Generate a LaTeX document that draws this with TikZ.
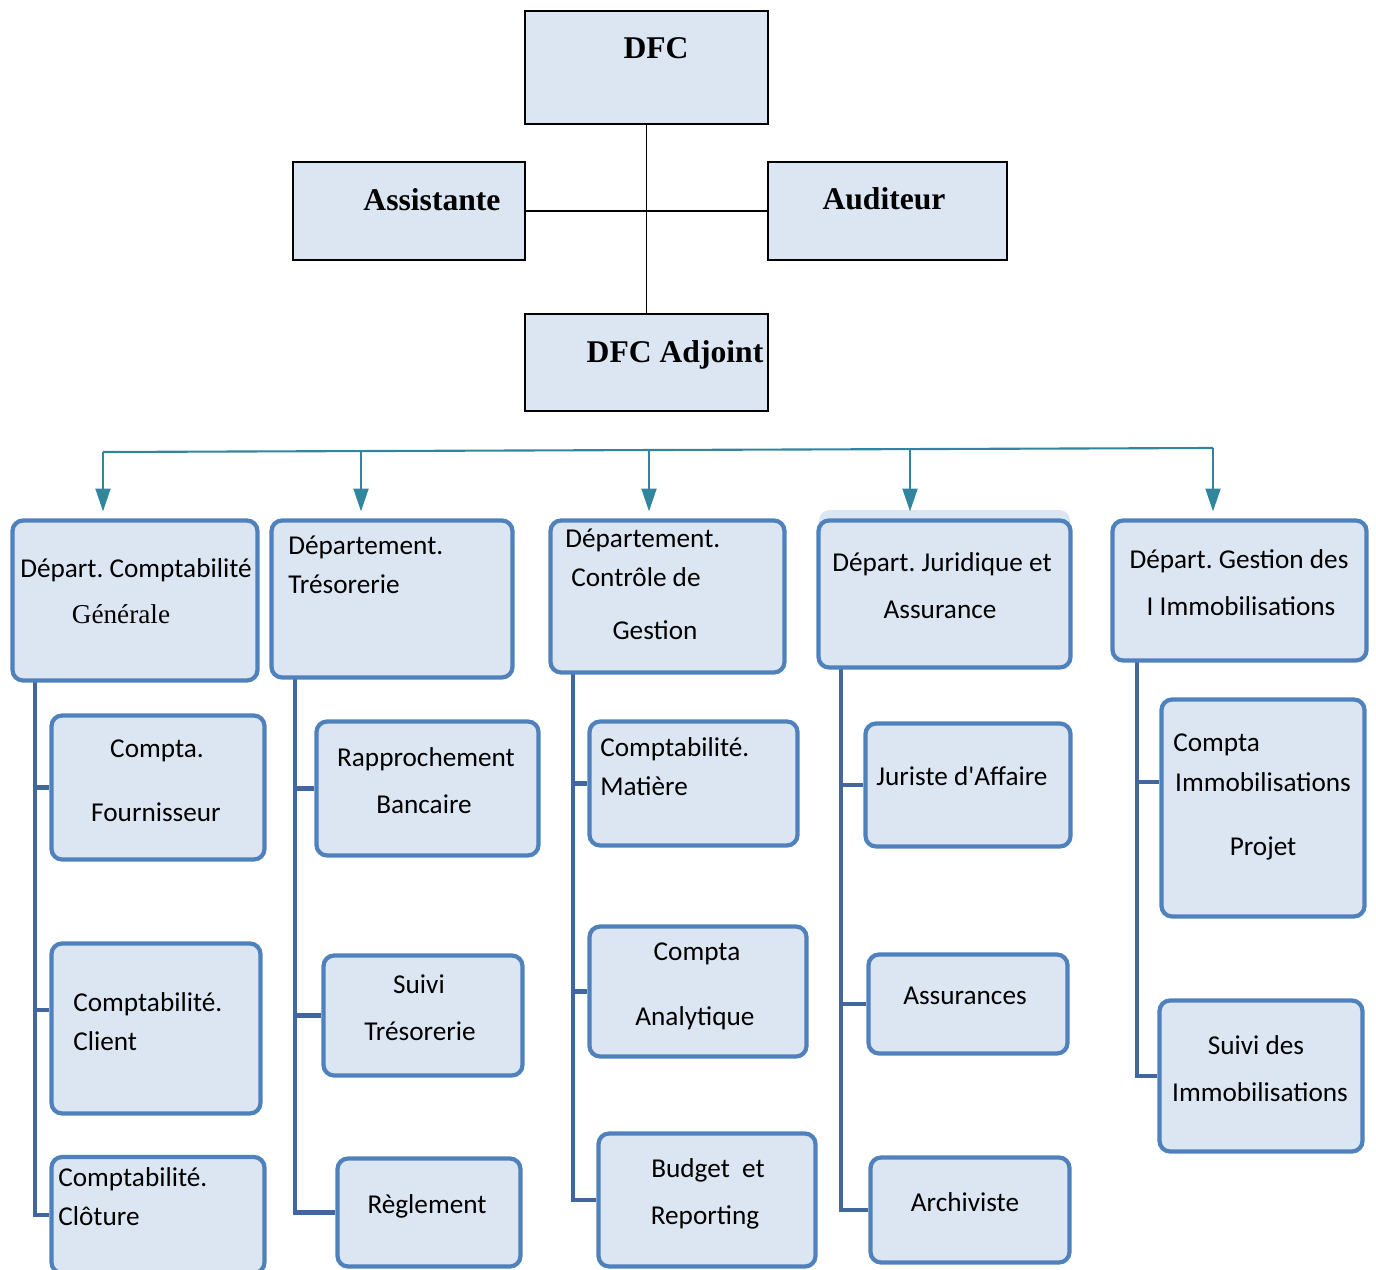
\documentclass[tikz,border=0pt]{standalone}
\usepackage{fontspec}
\setmainfont{Carlito}
\newfontfamily\timesfont{Liberation Serif}
\usetikzlibrary{arrows.meta,backgrounds}
\frenchspacing

\definecolor{boxfill}{HTML}{DCE6F2}
\definecolor{boxline}{HTML}{4F81BD}
\definecolor{trunkline}{HTML}{41679C}
\definecolor{busline}{HTML}{31859C}

\begin{document}
\begin{tikzpicture}
        [x=0.02cm, y=-0.02cm,
        top/.style={rectangle, draw=black, line width=0.9pt, fill=boxfill},
        dept/.style={rectangle, rounded corners=6pt, draw=boxline, line width=2.4pt, fill=boxfill},
        shade/.style={rectangle, rounded corners=6pt, fill=boxfill},
        sz/.style 2 args={minimum width=#1*0.02cm, minimum height=#2*0.02cm, inner sep=0pt},
        head/.style={font=\timesfont\bfseries\fontsize{18}{22}\selectfont, anchor=mid, inner sep=0pt, yshift=-1.8pt},
        lbl/.style={font=\fontsize{15.5}{19}\selectfont, anchor=mid, inner sep=0pt, yshift=-1.6pt},
        lbll/.style={lbl, anchor=mid west},
        link/.style={black, line width=1.1pt},
        bus/.style={busline, line width=1.2pt},
        arr/.style={busline, line width=1.2pt, shorten >=4pt, -{Triangle[length=13pt,width=8.5pt]}},
        trunk/.style={trunkline, line width=2.4pt}]

        \useasboundingbox (0,0) rectangle (1376,1270);
        \clip (0,0) rectangle (1376,1270);

        % top boxes
        \node[top, sz={243}{113}] (dfc) at (646.5,67.5) {};
        \node[top, sz={232}{98}] (asst) at (409,211) {};
        \node[top, sz={239}{98}] (aud) at (887.5,211) {};
        \node[top, sz={243}{97}] (adj) at (646.5,362.5) {};

        \node[head] (tdfc) at (656,51) {DFC};
        \node[head] (tasst) at (432,203) {Assistante};
        \node[head] (taud) at (884,202) {Auditeur};
        \node[head] (tadj) at (675,355) {DFC Adjoint};

        \draw[link] (dfc) -- (adj);
        \draw[link] (asst) -- (aud);

        % departments
        \node[shade, sz={251}{148}] (d4bg) at (944.5,584) {};
        \node[dept, sz={245}{160}] (d1) at (135,600.5) {};
        \node[dept, sz={241}{157}] (d2) at (392,599) {};
        \node[dept, sz={234}{152}] (d3) at (667.5,596.5) {};
        \node[dept, sz={252}{147}] (d4) at (944.5,594) {};
        \node[dept, sz={254}{140}] (d5) at (1239.5,590.5) {};

        \node[lbl] (td1a) at (136,570) {Départ. Comptabilité};
        \node[lbl, font=\timesfont\fontsize{15.5}{19}\selectfont] (td1b) at (121,616) {Générale};
        \node[lbll] (td2a) at (288,547) {Département.};
        \node[lbll] (td2b) at (288,586) {Trésorerie};
        \node[lbll] (td3a) at (565,540) {Département.};
        \node[lbll] (td3b) at (571,579) {Contrôle de};
        \node[lbl] (td3c) at (655,632) {Gestion};
        \node[lbl] (td4a) at (942,564) {Départ. Juridique et};
        \node[lbl] (td4b) at (940,611) {Assurance};
        \node[lbl] (td5a) at (1239,561) {Départ. Gestion des};
        \node[lbl] (td5b) at (1241,608) {I Immobilisations};

        % bus and arrows
        \coordinate (b1) at (103,452);
        \coordinate (b2) at (361,451);
        \coordinate (b3) at (649,450);
        \coordinate (b4) at (910,449);
        \coordinate (b5) at (1213,448);
        \draw[bus] (b1) -- (b5);
        \draw[arr] (b1) -- (b1 |- d1.north);
        \draw[arr] (b2) -- (b2 |- d2.north);
        \draw[arr] (b3) -- (b3 |- d3.north);
        \draw[arr] (b4) -- (b4 |- d4.north);
        \draw[arr] (b5) -- (b5 |- d5.north);

        % sub units
        \node[dept, sz={213}{144}] (c11) at (158,787.5) {};
        \node[dept, sz={209}{170}] (c12) at (156,1028.5) {};
        \node[dept, sz={213}{116}] (c13) at (158,1215) {};
        \node[dept, sz={222}{134}] (c21) at (427.5,788.5) {};
        \node[dept, sz={199}{120}] (c22) at (423,1015.5) {};
        \node[dept, sz={183}{108}] (c23) at (429,1212.5) {};
        \node[dept, sz={208}{124}] (c31) at (693.5,783.5) {};
        \node[dept, sz={217}{130}] (c32) at (698,991.5) {};
        \node[dept, sz={217}{133}] (c33) at (707,1200) {};
        \node[dept, sz={205}{123}] (c41) at (968,785) {};
        \node[dept, sz={199}{99}] (c42) at (968,1004) {};
        \node[dept, sz={199}{105}] (c43) at (970,1210) {};
        \node[dept, sz={203}{217}] (c51) at (1263,808) {};
        \node[dept, sz={203}{151}] (c52) at (1261,1076) {};

        \node[lbl] (tc11a) at (157,750) {Compta.};
        \node[lbl] (tc11b) at (156,814) {Fournisseur};
        \node[lbll] (tc12a) at (73,1004) {Comptabilité.};
        \node[lbll] (tc12b) at (73,1043) {Client};
        \node[lbll] (tc13a) at (58,1179) {Comptabilité.};
        \node[lbll] (tc13b) at (58,1218) {Clôture};
        \node[lbl] (tc21a) at (426,759) {Rapprochement};
        \node[lbl] (tc21b) at (424,806) {Bancaire};
        \node[lbl] (tc22a) at (419,986) {Suivi};
        \node[lbl] (tc22b) at (420,1033) {Trésorerie};
        \node[lbl] (tc23) at (427,1206) {Règlement};
        \node[lbll] (tc31a) at (600,749) {Comptabilité.};
        \node[lbll] (tc31b) at (600,788) {Matière};
        \node[lbl] (tc32a) at (697,953) {Compta};
        \node[lbl] (tc32b) at (695,1018) {Analytique};
        \node[lbl] (tc33a) at (708,1170) {Budget\ \ et};
        \node[lbl] (tc33b) at (705,1217) {Reporting};
        \node[lbl] (tc41) at (962,778) {Juriste d\textquotesingle Affaire};
        \node[lbl] (tc42) at (965,997) {Assurances};
        \node[lbl] (tc43) at (965,1204) {Archiviste};
        \node[lbll] (tc51a) at (1173,744) {Compta};
        \node[lbl] (tc51b) at (1263,784) {Immobilisations};
        \node[lbl] (tc51c) at (1263,848) {Projet};
        \node[lbl] (tc52a) at (1256,1047) {Suivi des};
        \node[lbl] (tc52b) at (1260,1094) {Immobilisations};

        % trunks to sub units
        \begin{scope}[on background layer]
        \coordinate (t1) at (35,682);
        \coordinate (t2) at (295,679);
        \coordinate (t3) at (573,674);
        \coordinate (t4) at (841,669);
        \coordinate (t5) at (1137,662);
        \draw[trunk] (t1) |- (c13.west);
        \draw[trunk] (t1 |- c11.west) -- (c11.west);
        \draw[trunk] (t1 |- c12.170) -- (c12.170);
        \draw[trunk] (t2) |- (c23.west);
        \draw[trunk] (t2 |- c21.west) -- (c21.west);
        \draw[trunk] (t2 |- c22.west) -- (c22.west);
        \draw[trunk] (t3) |- (c33.west);
        \draw[trunk] (t3 |- c31.west) -- (c31.west);
        \draw[trunk] (t3 |- c32.west) -- (c32.west);
        \draw[trunk] (t4) |- (c43.west);
        \draw[trunk] (t4 |- c41.west) -- (c41.west);
        \draw[trunk] (t4 |- c42.west) -- (c42.west);
        \draw[trunk] (t5) |- (c52.west);
        \draw[trunk] (t5 |- c51.166) -- (c51.166);
        \end{scope}

\end{tikzpicture}
\end{document}
